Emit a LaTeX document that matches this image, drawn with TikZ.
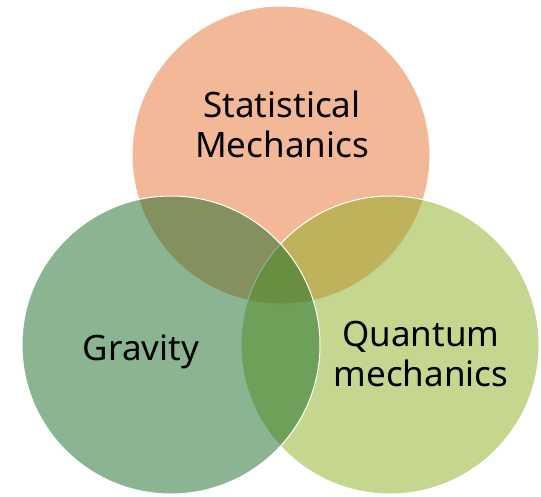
\documentclass[tikz,border=0pt]{standalone}
\usepackage{fontspec}
\newfontfamily\vennfont{Noto Sans}
\definecolor{statcol}{RGB}{229,113,49}
\definecolor{gravcol}{RGB}{23,107,37}
\definecolor{quantcol}{RGB}{139,173,31}
\tikzset{venn/.style={circle, minimum size=298pt, inner sep=0pt, draw=white,
    line width=1pt, fill opacity=0.5},
  vennlabel/.style={align=center, font=\vennfont\fontsize{35}{40}\selectfont,
    text opacity=1}}
\begin{document}
\begin{tikzpicture}[x=1pt,y=-1pt]
  \useasboundingbox (0,0) rectangle (541,496);
  \node[venn, fill=statcol] (stat) at (281,155) {}; \node[venn,
  fill=quantcol] (quant) at (390,345) {}; \node[venn, fill=gravcol]
  (grav) at (171,345) {};
  \node[vennlabel] (statlbl) at (282,124) {Statistical\\Mechanics};
  \node[vennlabel] (gravlbl) at (141,352) {Gravity};
  \node[vennlabel] (quantlbl) at (421,354) {Quantum\\mechanics};
\end{tikzpicture}
\end{document}
